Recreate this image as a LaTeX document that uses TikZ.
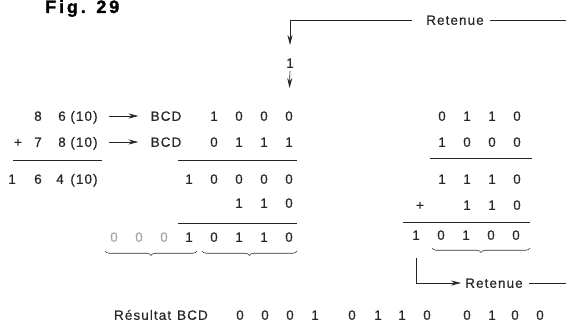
\documentclass[tikz,border=0pt]{standalone}
\usepackage{fontspec}
\setmainfont{Liberation Sans}[LetterSpace=8]
\usetikzlibrary{arrows.meta,decorations.pathreplacing}
\begin{document}
\begin{tikzpicture}[x=1pt,y=-1pt,
  txt/.style={font=\fontsize{13.5}{13.5}\selectfont\addfontfeature{FakeBold=0.4}, text=black!85, inner sep=0pt, text height=9.6pt, text depth=0pt},
  faint/.style={txt, text=black!35},
  ln/.style={line width=0.7pt, draw=black!85},
  arr/.style={-{Stealth[length=10pt,width=5pt]}, line width=0.7pt, draw=black!85},
  brc/.style={decorate, decoration={brace, mirror, amplitude=4.5pt}, line width=0.6pt, draw=black!80}]
\useasboundingbox (0,0) rectangle (566,329);

% title
\node[anchor=base west, inner sep=0pt, font=\fontsize{18}{18}\selectfont\bfseries\addfontfeature{LetterSpace=16,FakeBold=1.5}] (fig) at (45,13) {Fig. 29};

% top carry
\coordinate (corner) at (290,20);
\coordinate (topend) at (566,20);
\node[txt] (ret1) at (455,20) {Retenue};
\node[txt] (carry1) at (290,63) {1};

% ---- left block ----
% row 1
\node[txt] (a8) at (38,116) {8};
\node[txt] (a6) at (62,116) {6};
\node[txt] (ap) at (84,116) {(10)};
\node[txt] (abcd) at (166,116) {BCD};
\foreach \v [count=\i] in {1,0,0,0} \node[txt] (r1c\i) at ({189+25*\i},116) {\v};
% row 2
\node[txt] (bplus) at (18,142) {+};
\node[txt] (b7) at (38,142) {7};
\node[txt] (b8) at (62,142) {8};
\node[txt] (bp) at (84,142) {(10)};
\node[txt] (bbcd) at (166,142) {BCD};
\foreach \v [count=\i] in {0,1,1,1} \node[txt] (r2c\i) at ({189+25*\i},142) {\v};
% row 3
\node[txt] (c1) at (12,179) {1};
\node[txt] (c6) at (38,179) {6};
\node[txt] (c4) at (60,179) {4};
\node[txt] (cp) at (84,179) {(10)};
\foreach \v [count=\i] in {1,0,0,0,0} \node[txt] (r3c\i) at ({164+25*\i},179) {\v};
% row 4
\foreach \v [count=\i] in {1,1,0} \node[txt] (r4c\i) at ({214+25*\i},203) {\v};
% row 5
\foreach \i in {1,2,3} \node[faint] (r5f\i) at ({89+25*\i},237) {0};
\foreach \v [count=\i] in {1,0,1,1,0} \node[txt] (r5c\i) at ({164+25*\i},237) {\v};

% lines
\draw[ln] (13,160) -- (102,160);
\draw[ln] (178,160) -- (297,160);
\draw[ln] (178,223) -- (297,223);
% braces
\draw[brc] (105,251) -- (197,251);
\draw[brc] (202,251) -- (297,251);

% arrows to BCD
\draw[arr, shorten <=11pt, shorten >=12pt] (ap.east) -- (abcd.west);
\draw[arr, shorten <=11pt, shorten >=12pt] (bp.east) -- (bbcd.west);

% top carry connectors
\draw[ln] ([xshift=-14pt]ret1.west) -- (corner);
\draw[ln] ([xshift=6pt]ret1.east) -- (topend);
\draw[arr, shorten >=13pt] (corner) -- (carry1.north);
\draw[arr, shorten <=3pt, shorten >=23pt] (carry1.south) -- (r1c4.north);

% ---- right block ----
\foreach \v [count=\i] in {0,1,1,0} \node[txt] (s1c\i) at ({417+25*\i},116) {\v};
\foreach \v [count=\i] in {1,0,0,0} \node[txt] (s2c\i) at ({417+25*\i},142) {\v};
\foreach \v [count=\i] in {1,1,1,0} \node[txt] (s3c\i) at ({417+25*\i},179) {\v};
\node[txt] (splus) at (420,205) {+};
\foreach \v [count=\i] in {1,1,0} \node[txt] (s4c\i) at ({442+25*\i},205) {\v};
\foreach \v [count=\i] in {1,0,1,0,0} \node[txt] (s5c\i) at ({391+25*\i},235) {\v};
\draw[ln] (430,158) -- (532,158);
\draw[ln] (403,222) -- (530,222);
\draw[brc] (432,248) -- (530,248);

\node[txt] (ret2) at (494,283) {Retenue};
\coordinate (botend) at (566,283);
\draw[arr, shorten <=18pt, shorten >=4pt] (s5c1.south) |- (ret2.west);
\draw[ln] ([xshift=6pt]ret2.east) -- (botend);

% ---- result line ----
\node[txt, anchor=east] (res) at (208,315) {Résultat\hspace{6pt}BCD};
\foreach \v/\x [count=\i] in {0/240,0/265,0/290,1/315,0/352,1/378,1/402,0/427,0/467,1/492,0/515,0/540}
  \node[txt] (z\i) at (\x,315) {\v};
\end{tikzpicture}
\end{document}
